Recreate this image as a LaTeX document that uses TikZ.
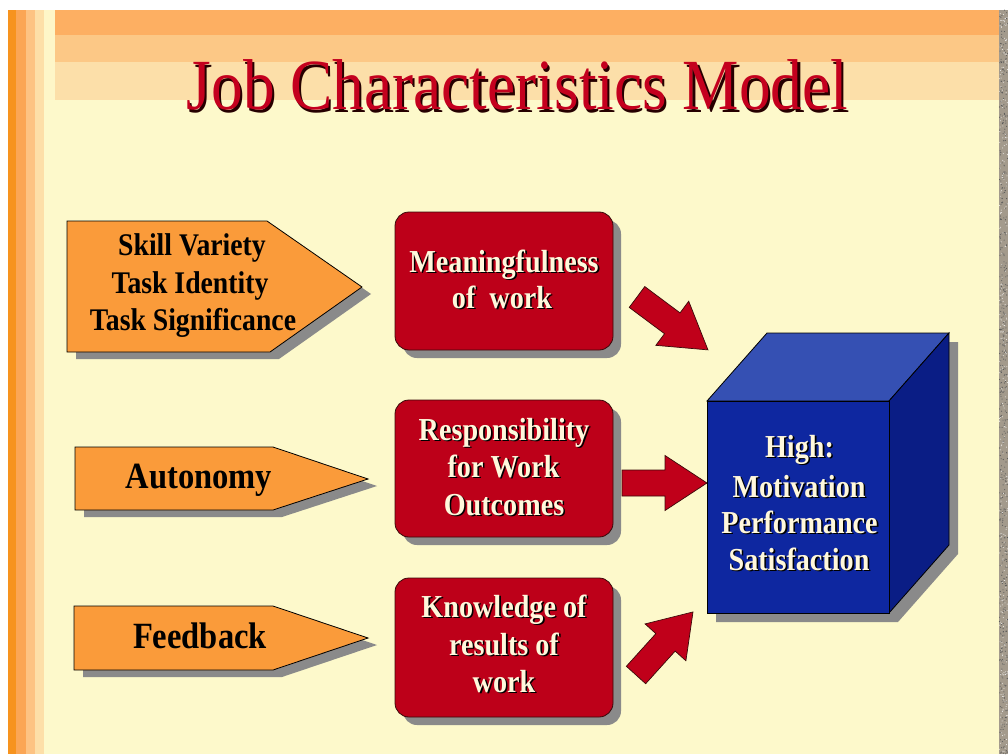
\documentclass[tikz,border=0pt]{standalone}
\usepackage{fontspec}
\setmainfont{Liberation Serif}[FakeStretch=0.88]
\definecolor{bgyellow}{HTML}{FDF9CB}
\definecolor{bandA}{HTML}{FDAF62}
\definecolor{bandB}{HTML}{FCC886}
\definecolor{bandC}{HTML}{FCDFA9}
\definecolor{lsA}{HTML}{F7931E}
\definecolor{lsB}{HTML}{FBA655}
\definecolor{lsC}{HTML}{FDC383}
\definecolor{lsD}{HTML}{FDDFA8}
\definecolor{lsE}{HTML}{FEF6C8}
\definecolor{granite}{HTML}{A39A8C}
\definecolor{boxred}{HTML}{BD0019}
\definecolor{arrowred}{HTML}{C0001A}
\definecolor{boxedge}{HTML}{3A0A0A}
\definecolor{pentorange}{HTML}{FA9B3A}
\definecolor{shadowgray}{HTML}{8A8A8A}
\definecolor{cubefront}{HTML}{0E27A0}
\definecolor{cubetop}{HTML}{3550B3}
\definecolor{cubeside}{HTML}{0A1D85}
\definecolor{cream}{HTML}{FFF8DC}
\definecolor{titlered}{HTML}{C4001E}
\newcommand\ctxt[4]{%
  \node[creamshadow] (#1s) at (#2,#3) {#4};
  \node[creamtext] (#1) at (#2,#3) {#4};}
\newcommand\btxt[5]{%
  \node[blacktext,font=#5] (#1) at (#2,#3) {#4};}
\begin{document}
\begin{tikzpicture}[x=1pt,y=-1pt,
  txtbase/.style={anchor=base,inner sep=0pt,outer sep=0pt},
  creamtext/.style={txtbase,text=cream,font=\fontsize{32}{38}\selectfont\bfseries},
  creamshadow/.style={creamtext,text=black,xshift=1.6pt,yshift=-1.6pt},
  blacktext/.style={txtbase,text=black},
  pent/.style={fill=pentorange,draw=black,line width=0.8pt},
  shade/.style={fill=shadowgray},
  redbox/.style={fill=boxred,draw=boxedge,line width=0.8pt,rounded corners=14pt},
  blockarrow/.style={fill=arrowred,draw=boxedge,line width=0.7pt,line join=miter},
  cubeface/.style={draw=black,line width=0.8pt,line join=miter}]
\useasboundingbox (0,0) rectangle (1008,754);
% background
\fill[white] (0,0) rectangle (1008,754);
\fill[bgyellow] (8,10) rectangle (999,754);
\fill[bandA] (55,10) rectangle (999,35);
\fill[bandB] (55,35) rectangle (999,62);
\fill[bandC] (55,62) rectangle (999,100);
\fill[lsA] (8,10) rectangle (16,754);
\fill[lsB] (16,10) rectangle (26,754);
\fill[lsC] (26,10) rectangle (35,754);
\fill[lsD] (35,10) rectangle (44,754);
\fill[lsE] (44,10) rectangle (55,100);
\fill[granite] (999,10) rectangle (1008,754);
\pgfmathsetseed{7}
\foreach \i in {1,...,500}{
  \fill[black!65] ({999.5+8*rnd},{10+744*rnd}) circle (0.55);
}
\foreach \i in {1,...,300}{
  \fill[white!85!granite] ({999.5+8*rnd},{10+744*rnd}) circle (0.5);
}
% title
\node[txtbase,text=black!85!red,font=\fontsize{72}{80}\selectfont,xshift=2.2pt,yshift=-2.2pt] (titles) at (517.5,110) {Job Characteristics Model};
\node[txtbase,text=titlered,font=\fontsize{72}{80}\selectfont] (title) at (517.5,110) {Job Characteristics Model};
% pentagons
\fill[shade] (76,228) -- (276,228) -- (371,294) -- (279,359) -- (76,359) -- cycle;
\draw[pent] (67,221) -- (267,221) -- (362,287) -- (270,352) -- (67,352) -- cycle;
\fill[shade] (84,454) -- (282,454) -- (377,486) -- (282,517) -- (84,517) -- cycle;
\draw[pent] (75,447) -- (273,447) -- (368,479) -- (273,510) -- (75,510) -- cycle;
\fill[shade] (83,613) -- (282,613) -- (377,645) -- (282,677) -- (83,677) -- cycle;
\draw[pent] (74,606) -- (273,606) -- (368,638) -- (273,670) -- (74,670) -- cycle;
\btxt{skill}{192}{255}{Skill Variety}{\fontsize{31.5}{38}\selectfont\bfseries}
\btxt{ident}{190}{293}{Task Identity}{\fontsize{31.5}{38}\selectfont\bfseries}
\btxt{signif}{193}{330}{Task Significance}{\fontsize{31.5}{38}\selectfont\bfseries}
\btxt{auto}{199}{488}{Autonomy}{\fontsize{37}{40}\selectfont\bfseries}
\btxt{feed}{200}{648}{Feedback}{\fontsize{37}{40}\selectfont\bfseries}
% red boxes
\fill[shade,rounded corners=14pt] (403,220) rectangle (621,358);
\draw[redbox] (395,212) rectangle (613,350);
\fill[shade,rounded corners=14pt] (403,408) rectangle (621,545);
\draw[redbox] (395,400) rectangle (613,537);
\fill[shade,rounded corners=14pt] (403,586) rectangle (621,725);
\draw[redbox] (395,578) rectangle (613,717);
\ctxt{mean}{504}{272}{Meaningfulness}
\ctxt{ofwork}{502}{308}{of\ \ work}
\ctxt{resp}{504}{440}{Responsibility}
\ctxt{forwork}{503.5}{477}{for Work}
\ctxt{outc}{504}{515}{Outcomes}
\ctxt{know}{504}{617}{Knowledge of}
\ctxt{results}{504}{655}{results of}
\ctxt{work}{504}{692}{work}
% block arrows
\begin{scope}[shift={(637,297)},rotate=-36.7]
\draw[blockarrow] (0,-13) -- (44,-13) -- (44,-27.5) -- (88.5,0) -- (44,27.5) -- (44,13) -- (0,13) -- cycle;
\end{scope}
\begin{scope}[shift={(622,483)}]
\draw[blockarrow] (0,-13) -- (43,-13) -- (43,-27.5) -- (85,0) -- (43,27.5) -- (43,13) -- (0,13) -- cycle;
\end{scope}
\begin{scope}[shift={(636,675)},rotate=47.9]
\draw[blockarrow] (0,-13) -- (44,-13) -- (44,-27.5) -- (85,0) -- (44,27.5) -- (44,13) -- (0,13) -- cycle;
\end{scope}
% cube
\fill[shade] (716,622) -- (716,410) -- (776,342) -- (958,342) -- (958,554) -- (898,622) -- cycle;
\draw[cubeface,fill=cubetop] (707,401) -- (767,333) -- (949,333) -- (889,401) -- cycle;
\draw[cubeface,fill=cubeside] (889,401) -- (949,333) -- (949,545) -- (889,613) -- cycle;
\draw[cubeface,fill=cubefront] (707,401) rectangle (889,613);
\ctxt{high}{799.5}{457}{High:}
\ctxt{motiv}{799}{497}{Motivation}
\ctxt{perf}{799.5}{533}{Performance}
\ctxt{satis}{799}{570}{Satisfaction}
\end{tikzpicture}
\end{document}
